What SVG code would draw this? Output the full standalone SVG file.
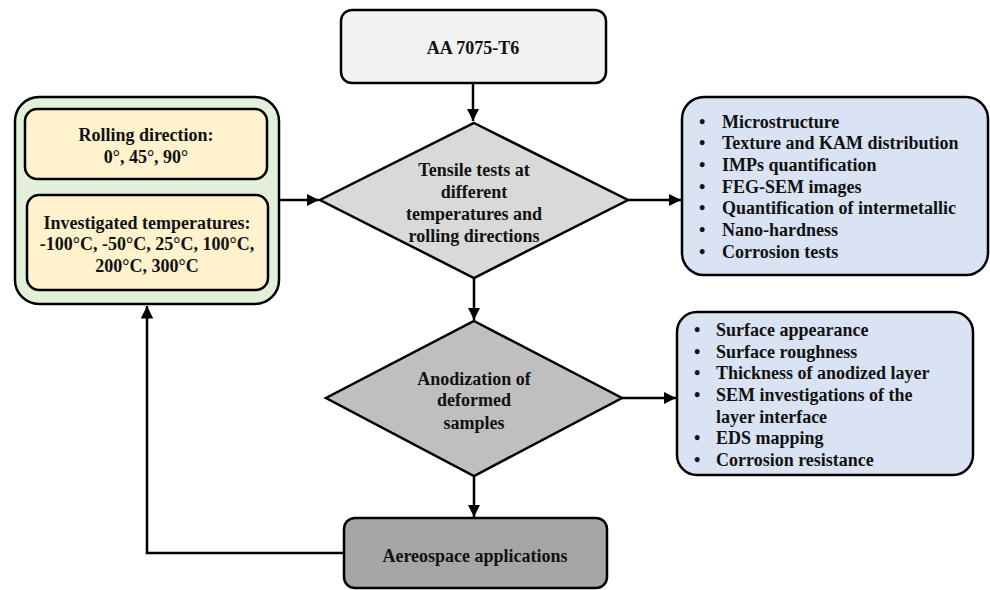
<svg xmlns="http://www.w3.org/2000/svg" width="990" height="590" viewBox="0 0 990 590">
<defs>
<marker id="ah" viewBox="0 0 10 10" refX="10" refY="5" markerWidth="5" markerHeight="5" orient="auto" markerUnits="strokeWidth">
<path d="M0,0 L10,5 L0,10 z" fill="#000"/>
</marker>
<style>
.box{stroke:#000;stroke-width:2.5}
.t{font-family:"Liberation Serif","Times New Roman",serif;font-weight:bold;font-size:18px;fill:#111}
.c{text-anchor:middle}
.ln{stroke:#000;stroke-width:2.5;fill:none}
</style>
</defs>
<rect width="990" height="590" fill="#fff"/>
<g id="connectors">
<line class="ln" x1="473" y1="83" x2="473" y2="121" marker-end="url(#ah)"/>
<line class="ln" x1="279" y1="200" x2="319" y2="200" marker-end="url(#ah)"/>
<line class="ln" x1="628" y1="200" x2="681" y2="200" marker-end="url(#ah)"/>
<line class="ln" x1="474" y1="278" x2="474" y2="320" marker-end="url(#ah)"/>
<line class="ln" x1="622" y1="398" x2="676" y2="398" marker-end="url(#ah)"/>
<line class="ln" x1="474" y1="476" x2="474" y2="517" marker-end="url(#ah)"/>
<polyline class="ln" points="344,553 147,553 147,306" marker-end="url(#ah)"/>
</g>
<g id="aa7075">
<rect class="box" x="341" y="10" width="265" height="73" rx="11" fill="#f2f2f2"/>
<text class="t c" x="473" y="54">AA 7075-T6</text>
</g>
<g id="params">
<rect class="box" x="15" y="97" width="264" height="207" rx="24" fill="#e2efd9"/>
<rect class="box" x="25" y="109" width="242" height="70" rx="12" fill="#fff2cc"/>
<rect class="box" x="27" y="195" width="241" height="95" rx="12" fill="#fff2cc"/>
<text class="t c" x="146" y="141">Rolling direction:</text>
<text class="t c" x="146" y="163">0°, 45°, 90°</text>
<text class="t c" x="147" y="229">Investigated temperatures:</text>
<text class="t c" x="147" y="250">-100°C, -50°C, 25°C, 100°C,</text>
<text class="t c" x="147" y="272">200°C, 300°C</text>
</g>
<g id="tensile">
<polygon class="box" points="474,123 628,200 474,278 320,200" fill="#d9d9d9"/>
<text class="t c" x="474" y="176">Tensile tests at</text>
<text class="t c" x="474" y="198">different</text>
<text class="t c" x="474" y="220">temperatures and</text>
<text class="t c" x="474" y="242">rolling directions</text>
</g>
<g id="characterization">
<rect class="box" x="682" y="97" width="306" height="178" rx="22" fill="#dae3f3"/>
<g class="t">
<text x="699" y="128">•</text><text x="722" y="128">Microstructure</text>
<text x="699" y="149">•</text><text x="722" y="149">Texture and KAM distribution</text>
<text x="699" y="171">•</text><text x="722" y="171">IMPs quantification</text>
<text x="699" y="193">•</text><text x="722" y="193">FEG-SEM images</text>
<text x="699" y="214">•</text><text x="722" y="214">Quantification of intermetallic</text>
<text x="699" y="236">•</text><text x="722" y="236">Nano-hardness</text>
<text x="699" y="258">•</text><text x="722" y="258">Corrosion tests</text>
</g>
</g>
<g id="anodization">
<polygon class="box" points="474,321 622,398 474,476 326,398" fill="#bfbfbf"/>
<text class="t c" x="474" y="385">Anodization of</text>
<text class="t c" x="474" y="406">deformed</text>
<text class="t c" x="474" y="429">samples</text>
</g>
<g id="anodized-analysis">
<rect class="box" x="677" y="312" width="296" height="163" rx="20" fill="#dae3f3"/>
<g class="t">
<text x="694" y="336">•</text><text x="716" y="336">Surface appearance</text>
<text x="694" y="358">•</text><text x="716" y="358">Surface roughness</text>
<text x="694" y="379">•</text><text x="716" y="379">Thickness of anodized layer</text>
<text x="694" y="401">•</text><text x="716" y="401">SEM investigations of the</text>
<text x="716" y="423">layer interface</text>
<text x="694" y="444">•</text><text x="716" y="444">EDS mapping</text>
<text x="694" y="466">•</text><text x="716" y="466">Corrosion resistance</text>
</g>
</g>
<g id="aerospace">
<rect class="box" x="344" y="518" width="263" height="70" rx="11" fill="#a6a6a6"/>
<text class="t c" x="475" y="562">Aereospace applications</text>
</g>
</svg>
